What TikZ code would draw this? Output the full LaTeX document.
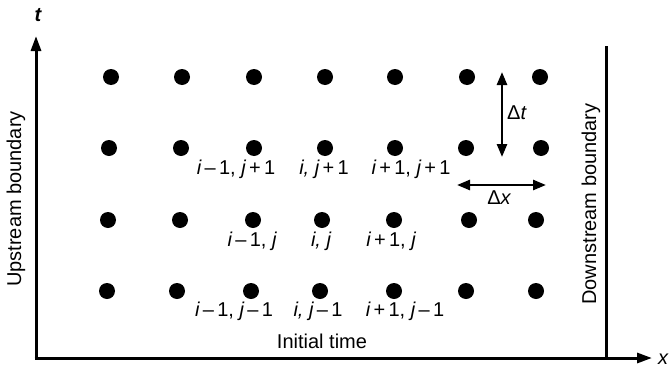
\documentclass[tikz,border=0pt]{standalone}
\usepackage{fontspec}
\setmainfont{Liberation Sans}
\usetikzlibrary{arrows.meta}
\begin{document}
\begin{tikzpicture}[x=1pt,y=-1pt,
  gridpt/.style={circle,fill=black,inner sep=0pt,minimum size=16pt},
  lbl/.style={font=\fontsize{20}{22}\selectfont,inner sep=0pt},
  axis/.style={line width=3pt,-{Triangle[length=15pt,width=10pt]}},
  dbl/.style={line width=2.6pt,{Triangle[length=13pt,width=10pt]}-{Triangle[length=13pt,width=10pt]}}]
\useasboundingbox (0,0) rectangle (672,367);
% axes
\coordinate (O) at (36,358);
\coordinate (T) at (36,36);
\coordinate (X) at (652,358);
\draw[axis] (36,359.5) -- (T);
\draw[axis] (34.5,358) -- (X);
\node[lbl] (tl) at (38,15) {\bfseries\itshape t};
\node[lbl] (xl) at (663,359) {\itshape x};
% downstream boundary
\coordinate (D1) at (606,46);
\coordinate (D2) at (606,358);
\draw[line width=3pt] (D1) -- (D2);
\node[lbl,rotate=90] (up) at (16,199) {Upstream boundary};
\node[lbl,rotate=90] (down) at (591,204) {Downstream boundary};
% dots
\foreach \x [count=\i] in {111,182,254,325,395,467,540} \node[gridpt] (a\i) at (\x,77) {};
\foreach \x [count=\i] in {109,181,254,325,395,466,541} \node[gridpt] (b\i) at (\x,148) {};
\foreach \x [count=\i] in {108,180,253,322,394,469,536} \node[gridpt] (c\i) at (\x,220) {};
\foreach \x [count=\i] in {107,177,251,320,394,466,536} \node[gridpt] (d\i) at (\x,291) {};
% labels
\node[lbl] (l1) at (236,169) {\itshape i\,\upshape–\,1, \itshape j\,\upshape+\,1};
\node[lbl] (l2) at (324,169) {\itshape i, j\,\upshape+\,1};
\node[lbl] (l3) at (411,169) {\itshape i\,\upshape+\,1, \itshape j\,\upshape+\,1};
\node[lbl] (l4) at (252,241) {\itshape i\,\upshape–\,1, \itshape j};
\node[lbl] (l5) at (321,241) {\itshape i, j};
\node[lbl] (l6) at (391,241) {\itshape i\,\upshape+\,1, \itshape j};
\node[lbl] (l7) at (234,311) {\itshape i\,\upshape–\,1, \itshape j\,\upshape–\,1};
\node[lbl] (l8) at (318,311) {\itshape i, j\,\upshape–\,1};
\node[lbl] (l9) at (405,311) {\itshape i\,\upshape+\,1, \itshape j\,\upshape–\,1};
\node[lbl] (init) at (322,341) {Initial time};
% delta arrows
\coordinate (dt1) at (502,72);
\coordinate (dt2) at (502,157);
\draw[dbl] (dt1) -- (dt2);
\node[lbl,anchor=west] (dtl) at (507,113) {Δ\itshape t};
\coordinate (dx1) at (457,185);
\coordinate (dx2) at (546,185);
\draw[dbl] (dx1) -- (dx2);
\node[lbl] (dxl) at (499,198) {Δ\itshape x};
\end{tikzpicture}
\end{document}
